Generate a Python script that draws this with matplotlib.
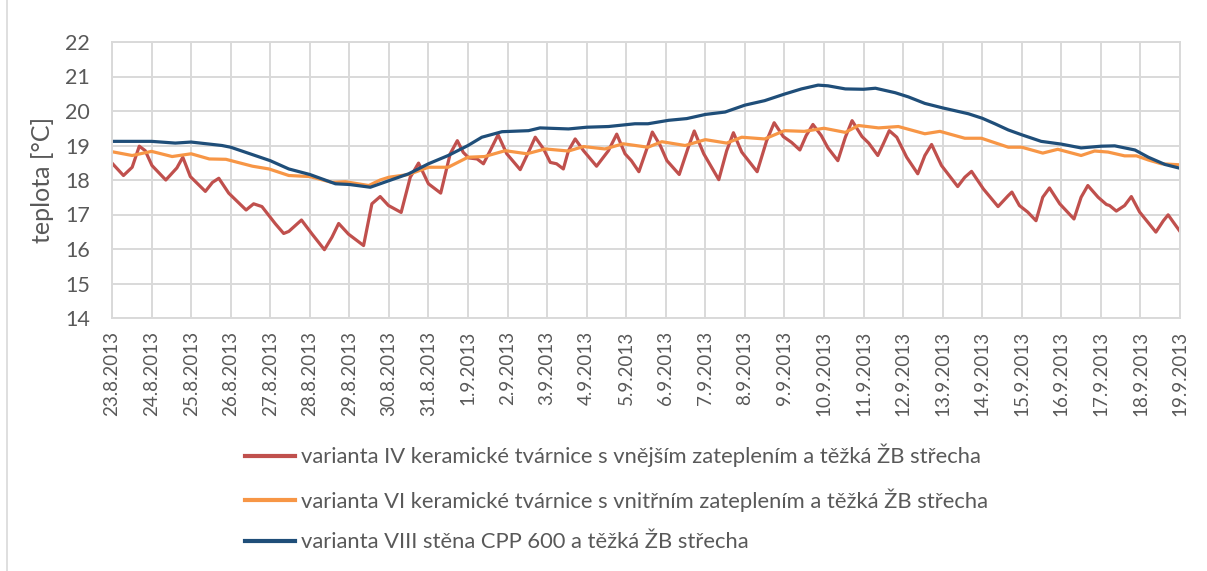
import matplotlib.pyplot as plt
from matplotlib.lines import Line2D

# day labels on the x axis (one per day, 23.8.2013 .. 19.9.2013)
dates = ["23.8.2013", "24.8.2013", "25.8.2013", "26.8.2013", "27.8.2013",
         "28.8.2013", "29.8.2013", "30.8.2013", "31.8.2013", "1.9.2013",
         "2.9.2013", "3.9.2013", "4.9.2013", "5.9.2013", "6.9.2013",
         "7.9.2013", "8.9.2013", "9.9.2013", "10.9.2013", "11.9.2013",
         "12.9.2013", "13.9.2013", "14.9.2013", "15.9.2013", "16.9.2013",
         "17.9.2013", "18.9.2013", "19.9.2013"]

# varianta IV - time in days from 23.8.2013 0:00, temperature in degC
t_iv = [0.00, 0.29, 0.51, 0.69, 0.84, 1.01, 1.36, 1.64, 1.79, 1.98, 2.36, 2.54,
        2.70, 2.95, 3.39, 3.58, 3.79, 4.13, 4.34, 4.47, 4.79, 5.06, 5.37, 5.56,
        5.73, 5.98, 6.36, 6.57, 6.78, 6.99, 7.31, 7.54, 7.75, 8.00, 8.31, 8.55,
        8.73, 8.88, 9.02, 9.23, 9.39, 9.56, 9.76, 9.98, 10.32, 10.53, 10.70,
        10.91, 11.08, 11.24, 11.41, 11.54, 11.71, 11.92, 12.25, 12.55, 12.76,
        12.97, 13.13, 13.32, 13.55, 13.66, 13.86, 14.03, 14.34, 14.57, 14.72,
        14.96, 15.34, 15.54, 15.71, 15.92, 16.31, 16.55, 16.74, 16.97, 17.18,
        17.39, 17.55, 17.72, 17.93, 18.10, 18.35, 18.54, 18.71, 18.96, 19.13,
        19.36, 19.50, 19.65, 19.84, 20.09, 20.37, 20.55, 20.72, 20.97, 21.38,
        21.56, 21.73, 22.03, 22.40, 22.66, 22.75, 22.94, 23.15, 23.36, 23.53,
        23.70, 23.96, 24.32, 24.50, 24.67, 24.93, 25.14, 25.22, 25.39, 25.60,
        25.77, 25.98, 26.39, 26.58, 26.70, 26.83, 27.00]
v_iv = [18.49, 18.13, 18.37, 18.98, 18.85, 18.42, 18.00, 18.35, 18.66, 18.10,
        17.67, 17.93, 18.05, 17.62, 17.13, 17.31, 17.23, 16.73, 16.45, 16.51,
        16.84, 16.43, 15.98, 16.34, 16.74, 16.43, 16.10, 17.31, 17.52, 17.26,
        17.06, 18.08, 18.49, 17.89, 17.62, 18.76, 19.14, 18.80, 18.64, 18.61,
        18.47, 18.85, 19.31, 18.76, 18.30, 18.81, 19.24, 18.90, 18.51, 18.47,
        18.32, 18.85, 19.19, 18.85, 18.40, 18.85, 19.33, 18.76, 18.56, 18.24,
        19.00, 19.39, 19.00, 18.56, 18.16, 18.95, 19.42, 18.76, 18.01, 18.85,
        19.37, 18.81, 18.24, 19.14, 19.66, 19.26, 19.09, 18.87, 19.29, 19.61,
        19.29, 18.93, 18.56, 19.24, 19.72, 19.26, 19.07, 18.71, 19.05, 19.43,
        19.24, 18.66, 18.18, 18.71, 19.03, 18.42, 17.81, 18.08, 18.25, 17.74,
        17.23, 17.55, 17.65, 17.26, 17.07, 16.82, 17.50, 17.77, 17.31, 16.87,
        17.50, 17.84, 17.50, 17.29, 17.26, 17.10, 17.26, 17.52, 17.07, 16.49,
        16.82, 16.99, 16.78, 16.51]

# varianta VI
t_vi = [0.00, 0.51, 1.00, 1.52, 2.00, 2.46, 2.88, 3.55, 3.97, 4.47, 5.00, 5.56,
        5.90, 6.49, 6.78, 7.00, 7.50, 8.00, 8.50, 9.00, 9.42, 9.94, 10.49,
        10.95, 11.54, 11.92, 12.46, 12.92, 13.55, 13.90, 14.49, 15.00, 15.54,
        15.92, 16.50, 17.00, 17.50, 18.00, 18.54, 18.87, 19.38, 19.88, 20.55,
        20.93, 21.56, 21.98, 22.66, 23.00, 23.53, 23.91, 24.50, 24.84, 25.18,
        25.60, 25.90, 26.20, 26.53, 27.00]
v_vi = [18.82, 18.71, 18.83, 18.68, 18.76, 18.61, 18.60, 18.40, 18.32, 18.13,
        18.10, 17.93, 17.95, 17.84, 18.00, 18.08, 18.16, 18.37, 18.37, 18.66,
        18.68, 18.85, 18.76, 18.90, 18.84, 18.97, 18.90, 19.05, 18.95, 19.11,
        19.00, 19.17, 19.07, 19.24, 19.19, 19.43, 19.41, 19.50, 19.38, 19.58,
        19.51, 19.55, 19.34, 19.41, 19.21, 19.21, 18.95, 18.95, 18.78, 18.89,
        18.71, 18.84, 18.81, 18.70, 18.70, 18.58, 18.47, 18.44]

# varianta VIII
t_viii = [0.00, 1.00, 1.60, 2.00, 2.78, 3.00, 3.54, 4.00, 4.47, 5.00, 5.65,
          6.00, 6.53, 7.00, 7.50, 8.00, 8.50, 9.00, 9.35, 9.86, 10.53, 10.82,
          11.54, 12.00, 12.55, 13.22, 13.55, 14.07, 14.53, 15.00, 15.50, 16.00,
          16.50, 17.00, 17.43, 17.85, 18.10, 18.54, 19.00, 19.30, 19.80, 20.13,
          20.55, 21.00, 21.65, 22.00, 22.32, 22.66, 23.00, 23.49, 24.00, 24.50,
          25.01, 25.35, 25.86, 26.20, 26.62, 27.00]
v_viii = [19.12, 19.12, 19.07, 19.10, 19.00, 18.95, 18.74, 18.56, 18.32, 18.16,
          17.89, 17.87, 17.79, 17.98, 18.18, 18.47, 18.71, 19.00, 19.24, 19.40,
          19.43, 19.51, 19.48, 19.53, 19.55, 19.63, 19.63, 19.73, 19.78, 19.90,
          19.97, 20.17, 20.30, 20.49, 20.64, 20.75, 20.73, 20.64, 20.63, 20.66,
          20.53, 20.41, 20.22, 20.09, 19.92, 19.79, 19.63, 19.45, 19.31, 19.12,
          19.04, 18.93, 18.98, 18.99, 18.87, 18.66, 18.45, 18.34]

labels = ["varianta IV keramické tvárnice s vnějším zateplením a těžká ŽB střecha",
          "varianta VI keramické tvárnice s vnitřním zateplením a těžká ŽB střecha",
          "varianta VIII stěna CPP 600 a těžká ŽB střecha"]
colors = ["#c0504d", "#f79646", "#1f4e79"]

plt.rcParams['font.family'] = ['Lato', 'DejaVu Sans']
txt = "#595959"
grid = "#d9d9d9"

fig = plt.figure(figsize=(12.07, 5.71), dpi=100)
ax = fig.add_axes([112 / 1207, 1 - 318 / 571, (1180 - 112) / 1207, (318 - 42) / 571])

ax.plot(t_iv, v_iv, color=colors[0], lw=2.3, solid_joinstyle='round')
ax.plot(t_vi, v_vi, color=colors[1], lw=2.3, solid_joinstyle='round')
ax.plot(t_viii, v_viii, color=colors[2], lw=2.3, solid_joinstyle='round')

ax.set_xlim(0, len(dates) - 1)
ax.set_ylim(14, 22)
ax.set_xticks(range(len(dates)))
ax.set_xticklabels(dates, rotation=90)
ax.set_yticks(range(14, 23))
ax.tick_params(length=0, labelcolor=txt)
ax.tick_params(axis='x', labelsize=13.5, pad=9)
ax.tick_params(axis='y', labelsize=15.5, pad=16)
ax.grid(True, color=grid, lw=1.4)
ax.set_axisbelow(True)
for s in ax.spines.values():
    s.set_color(grid)
    s.set_linewidth(1.4)
ax.set_ylabel("teplota [°C]", fontsize=18, color=txt, labelpad=8)

handles = [Line2D([], [], color=c, lw=3) for c in colors]
fig.legend(handles, labels, loc='upper left', bbox_to_anchor=(236 / 1207, 1 - 435 / 571),
           frameon=False, fontsize=15.8, labelcolor=txt, handlelength=2.3,
           handletextpad=0.28, labelspacing=0.95, borderaxespad=0)

fig.add_artist(Line2D([7 / 1207, 7 / 1207], [0, 1], color=grid, lw=1.2))

fig.savefig("out.png", dpi=100)
